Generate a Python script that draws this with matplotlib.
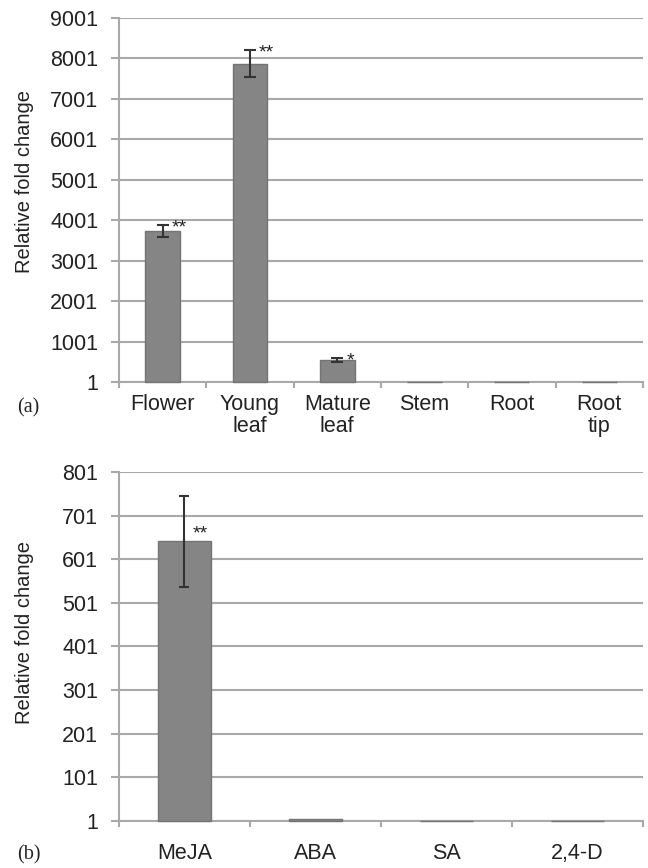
import matplotlib
matplotlib.use("Agg")
import matplotlib.pyplot as plt
import numpy as np

plt.rcParams['font.family'] = ['Liberation Sans', 'DejaVu Sans']

# Panel (a): tissues
tissues = ["Flower", "Young\nleaf", "Mature\nleaf", "Stem", "Root", "Root\ntip"]
tissue_vals = [3730, 7870, 540, 1, 0.3, 0.3]
tissue_err = [155, 338, 45, 0, 0, 0]
tissue_sig = ["**", "**", "*", "", "", ""]
yticks_a = [1, 1001, 2001, 3001, 4001, 5001, 6001, 7001, 8001, 9001]

# Panel (b): hormones
hormones = ["MeJA", "ABA", "SA", "2,4-D"]
hormone_vals = [642, 5, 0.3, 1]
hormone_err = [104, 0, 0, 0]
hormone_sig = ["**", "", "", ""]
yticks_b = [1, 101, 201, 301, 401, 501, 601, 701, 801]

BAR = "#858585"
EDGE = "#747474"
GRID = "#a9a9a9"
TXT = "#222222"
FS = 15.5


def draw(ax, cats, vals, errs, yticks, cap, xpad):
    x = np.arange(len(cats))
    heights = [v - 1 for v in vals]
    bars = ax.bar(x, heights, bottom=1, width=0.4, color=BAR, edgecolor=EDGE,
                  linewidth=1.0, zorder=3)
    for b in bars:
        b.set_clip_on(False)
    for xi, v, e in zip(x, vals, errs):
        if e > 0:
            ax.errorbar(xi, v, yerr=e, fmt='none', ecolor='#333333', elinewidth=1.5,
                        capsize=cap, capthick=1.5, zorder=4)
    ax.set_xlim(-0.5, len(cats) - 0.5)
    ax.set_ylim(yticks[0], yticks[-1])
    ax.set_yticks(yticks)
    ax.set_yticklabels([str(t) for t in yticks], fontsize=FS, color=TXT)
    ax.yaxis.grid(True, color=GRID, linewidth=1.5, zorder=0)
    ax.set_axisbelow(True)
    ax.set_xticks(np.arange(-0.5, len(cats), 1.0))
    ax.set_xticklabels([])
    ax.set_xticks(x, minor=True)
    ax.set_xticklabels(cats, minor=True, fontsize=FS, color=TXT,
                       linespacing=1.05, va='top')
    ax.tick_params(axis='x', which='minor', length=0, pad=xpad)
    ax.tick_params(axis='x', which='major', length=4, width=1.5, color=GRID, direction='out')
    ax.tick_params(axis='y', length=6, width=1.5, color=GRID, pad=9)
    for sp in ['top', 'right']:
        ax.spines[sp].set_visible(False)
    for sp in ['left', 'bottom']:
        ax.spines[sp].set_color(GRID)
        ax.spines[sp].set_linewidth(1.5)


fig = plt.figure(figsize=(6.48, 8.68), dpi=100)
ax1 = fig.add_axes([0.1836, 0.5599, 0.8086, 0.4194])
ax2 = fig.add_axes([0.1836, 0.0545, 0.8086, 0.4017])

draw(ax1, tissues, tissue_vals, tissue_err, yticks_a, 4, 8.5)
draw(ax2, hormones, hormone_vals, hormone_err, yticks_b, 3.6, 16)

# significance marks
for xi, v, e, s in zip(range(len(tissues)), tissue_vals, tissue_err, tissue_sig):
    if s:
        ax1.annotate(s, xy=(xi, v + e), xytext=(6.5, -2), textcoords='offset points',
                     ha='left', va='center', fontsize=14, color=TXT, zorder=5)
for xi, v, e, s in zip(range(len(hormones)), hormone_vals, hormone_err, hormone_sig):
    if s:
        ax2.annotate(s, xy=(xi, v), xytext=(6, 5), textcoords='offset points',
                     ha='left', va='center', fontsize=14, color=TXT, zorder=5)

for ax, yc in [(ax1, 0.55), (ax2, 0.54)]:
    ax.set_ylabel("Relative fold change", fontsize=14.5, color=TXT, va='center')
    ax.yaxis.set_label_coords(-0.181, yc)

fig.text(0.026, 0.530, "(a)", family=['Liberation Serif'], fontsize=14.5,
         color=TXT, va='center')
fig.text(0.026, 0.015, "(b)", family=['Liberation Serif'], fontsize=14.5,
         color=TXT, va='center')

fig.savefig("out.png", dpi=100)
